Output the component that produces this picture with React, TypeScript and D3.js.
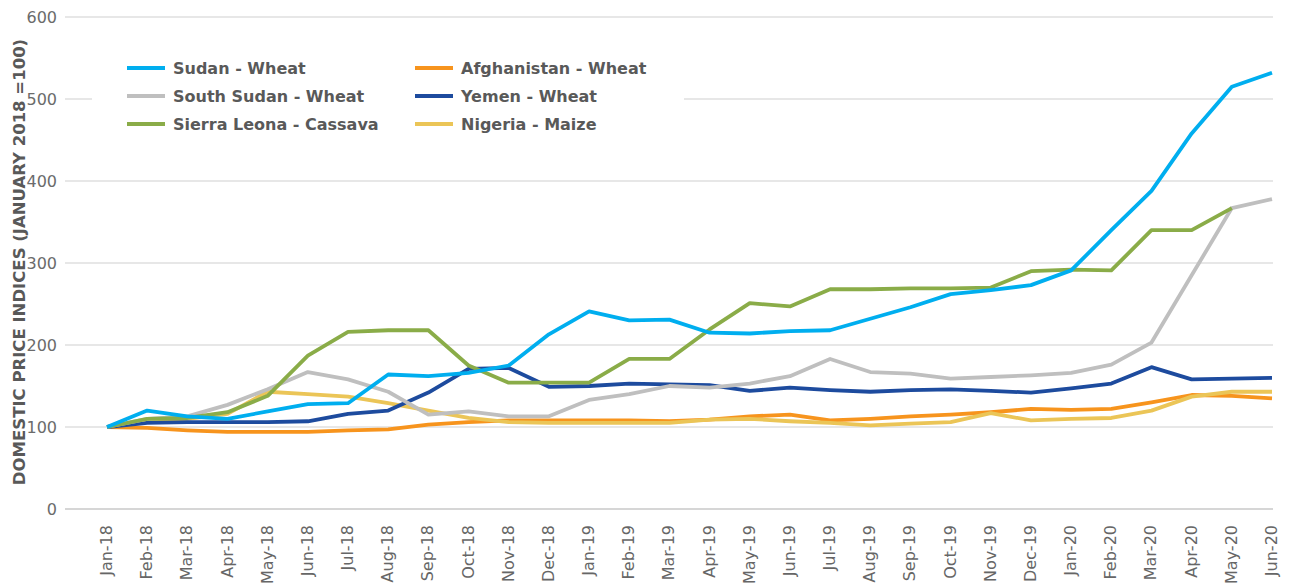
import React from 'react';
import * as d3 from 'd3';

const months = [
	'Jan-18', 'Feb-18', 'Mar-18', 'Apr-18', 'May-18', 'Jun-18', 'Jul-18', 'Aug-18', 'Sep-18', 'Oct-18',
	'Nov-18', 'Dec-18', 'Jan-19', 'Feb-19', 'Mar-19', 'Apr-19', 'May-19', 'Jun-19', 'Jul-19', 'Aug-19',
	'Sep-19', 'Oct-19', 'Nov-19', 'Dec-19', 'Jan-20', 'Feb-20', 'Mar-20', 'Apr-20', 'May-20', 'Jun-20',
];

const sudanWheat = [100, 120, 113, 110, 119, 128, 129, 164, 162, 166, 175, 213, 241, 230, 231, 215, 214, 217, 218, 232, 246, 262, 267, 273, 291, 340, 388, 458, 515, 532];
const southSudanWheat = [100, 110, 113, 127, 146, 167, 158, 143, 115, 119, 113, 113, 133, 140, 150, 148, 153, 162, 183, 167, 165, 159, 161, 163, 166, 176, 203, 285, 367, 378];
const sierraLeonaCassava = [100, 110, 111, 118, 138, 187, 216, 218, 218, 175, 154, 154, 154, 183, 183, 219, 251, 247, 268, 268, 269, 269, 270, 290, 292, 291, 340, 340, 367, null];
const afghanistanWheat = [100, 99, 96, 94, 94, 94, 96, 97, 103, 106, 108, 108, 108, 108, 107, 109, 113, 115, 108, 110, 113, 115, 118, 122, 121, 122, 130, 139, 138, 135];
const yemenWheat = [100, 105, 106, 106, 106, 107, 116, 120, 142, 171, 172, 149, 150, 153, 152, 151, 144, 148, 145, 143, 145, 146, 144, 142, 147, 153, 173, 158, 159, 160];
const nigeriaMaize = [100, 108, 110, 116, 143, 140, 137, 129, 120, 111, 106, 105, 105, 105, 105, 109, 110, 107, 105, 102, 104, 106, 117, 108, 110, 111, 120, 137, 143, 143];

const yTicks = [0, 100, 200, 300, 400, 500, 600];

// drawing order (back to front) as in the original
const series = [
	{ name: 'Afghanistan - Wheat', color: '#F7941D', values: afghanistanWheat },
	{ name: 'Nigeria - Maize', color: '#EBC557', values: nigeriaMaize },
	{ name: 'Yemen - Wheat', color: '#1D4B9E', values: yemenWheat },
	{ name: 'South Sudan - Wheat', color: '#BFBFBF', values: southSudanWheat },
	{ name: 'Sierra Leona - Cassava', color: '#8AAC48', values: sierraLeonaCassava },
	{ name: 'Sudan - Wheat', color: '#00AEEF', values: sudanWheat },
];

const legendOrder = [
	['Sudan - Wheat', 'Afghanistan - Wheat'],
	['South Sudan - Wheat', 'Yemen - Wheat'],
	['Sierra Leona - Cassava', 'Nigeria - Maize'],
];

const W = 1290;
const H = 585;
const font = '"DejaVu Sans", "Liberation Sans", sans-serif';

export default function App() {
	const x = d3.scalePoint<string>().domain(months).range([107, 1272]);
	const y = d3.scaleLinear().domain([0, 600]).range([509, 17]);

	const line = d3
		.line<number | null>()
		.defined((d) => d != null)
		.x((_, i) => x(months[i]) as number)
		.y((d) => y(d as number));

	const colorOf = (name: string) => series.find((s) => s.name === name)!.color;

	return (
		<svg
			width={W}
			height={H}
			style={{ position: 'absolute', left: 0, top: 0, background: '#fff', fontFamily: font }}>
			{/* grid */}
			{yTicks.map((t) => (
				<g key={t}>
					<line
						x1={65}
						x2={1273}
						y1={y(t)}
						y2={y(t)}
						stroke={t === 0 ? '#d6d6d6' : '#cfcfcf'}
						strokeWidth={t === 0 ? 2 : 1.2}
					/>
					<text x={57} y={y(t)} dy="0.36em" textAnchor="end" fontSize={16} fill="#6b6b6b">
						{t}
					</text>
				</g>
			))}

			{/* y title */}
			<text
				transform={`translate(25, ${y(300) - 1}) rotate(-90)`}
				textAnchor="middle"
				fontSize={16.5}
				fontWeight="bold"
				fill="#595959">
				DOMESTIC PRICE INDICES (JANUARY 2018 =100)
			</text>

			{/* x labels */}
			{months.map((m) => (
				<text
					key={m}
					transform={`translate(${(x(m) as number) + 5}, 525) rotate(-90)`}
					textAnchor="end"
					fontSize={16}
					fill="#666">
					{m}
				</text>
			))}

			{/* legend box */}
			<rect x={92} y={48} width={592} height={92} fill="#fff" />

			{/* lines */}
			{series.map((s) => (
				<path
					key={s.name}
					d={line(s.values) || ''}
					fill="none"
					stroke={s.color}
					strokeWidth={3.8}
					strokeLinejoin="round"
				/>
			))}

			{/* legend */}
			{legendOrder.map((row, r) =>
				row.map((name, c) => {
					const lx = c === 0 ? 127 : 415;
					const ly = 68 + r * 28;
					return (
						<g key={name}>
							<line x1={lx} x2={lx + 38} y1={ly} y2={ly} stroke={colorOf(name)} strokeWidth={4} />
							<text x={lx + 46} y={ly} dy="0.36em" fontSize={16} fontWeight="bold" fill="#595959">
								{name}
							</text>
						</g>
					);
				}),
			)}
		</svg>
	);
}
